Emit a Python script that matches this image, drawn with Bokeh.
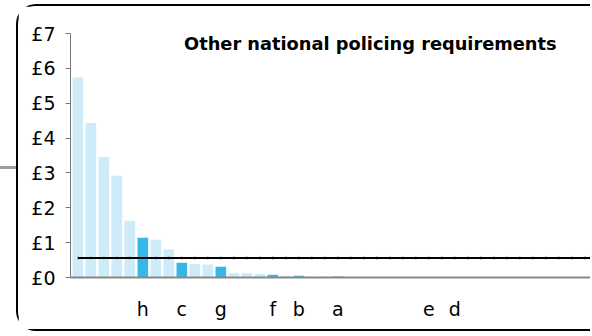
from bokeh.plotting import figure
from bokeh.models import ColumnDataSource, FixedTicker, Range1d, Label
from bokeh.embed import file_html
from bokeh.resources import INLINE

# ---- data ----
title_text = "Other national policing requirements"
force_labels = ["", "", "", "", "", "h", "", "", "c", "", "", "g", "", "", "", "f", "", "b", "", "", "a",
                "", "", "", "", "", "", "e", "", "d", "", "", "", "", "", "", "", "", "", "", ""]
values = [5.74, 4.43, 3.46, 2.92, 1.63, 1.14, 1.08, 0.80, 0.42, 0.39, 0.37, 0.31, 0.13, 0.13, 0.10,
          0.08, 0.05, 0.05, 0.02, 0.02, 0.02, 0, 0, 0, 0, 0, 0, 0, 0, 0, 0, 0, 0, 0, 0, 0, 0, 0, 0, 0, 0]
highlight = ["L", "L", "L", "L", "L", "H", "L", "L", "H", "L", "L", "H", "L", "L", "L", "H", "L", "H", "L", "L", "A",
             "L", "L", "L", "L", "L", "L", "H", "L", "H", "L", "L", "L", "L", "L", "L", "L", "L", "L", "L", "L"]
average = 0.56
y_ticks = [0, 1, 2, 3, 4, 5, 6, 7]
y_tick_labels = ["£0", "£1", "£2", "£3", "£4", "£5", "£6", "£7"]

palette = {"L": "#CDEBF8", "H": "#35B8E8", "A": "#111111"}

xs = list(range(1, len(values) + 1))
src = ColumnDataSource(dict(x=xs, top=values, color=[palette[h] for h in highlight]))

p = figure(width=574, height=327, output_backend="svg", toolbar_location=None,
           x_range=Range1d(0.435, 40.59), y_range=Range1d(0, 7),
           min_border_left=52, min_border_right=0, min_border_top=27, min_border_bottom=56)
# rounded panel frame around the chart (cut off at the right edge), plus the grey tab at the left
p.styles = {"margin-left": "16px", "margin-top": "4px",
            "border-top": "2px solid black", "border-left": "2px solid black",
            "border-bottom": "2px solid black", "border-top-left-radius": "20px",
            "border-bottom-left-radius": "20px",
            "box-shadow": "-178px 0px 0 -162px #9c9c9c"}

p.outline_line_color = None
p.grid.visible = False
p.background_fill_color = "white"
p.border_fill_color = "white"

p.vbar(x="x", top="top", width=0.82, color="color", source=src, line_color=None)

# average line with small point markers
avg = [average] * len(xs)
p.scatter(xs, avg, marker="dash", angle=1.5708, size=4, line_color="#aaaaaa", line_width=1)
p.line(xs, avg, line_color="black", line_width=2)

# axes
p.yaxis.ticker = FixedTicker(ticks=y_ticks)
p.yaxis.major_label_overrides = {t: l for t, l in zip(y_ticks, y_tick_labels)}
p.yaxis.axis_line_color = "#777777"
p.yaxis.major_tick_line_color = "#777777"
p.yaxis.major_tick_out = 5
p.yaxis.major_tick_in = 0
p.yaxis.minor_tick_line_color = None
p.yaxis.major_label_standoff = 10
p.yaxis.major_label_text_font = "DejaVu Sans"
p.yaxis.major_label_text_font_size = "19px"
p.yaxis.major_label_text_color = "black"

x_ticks = [x for x, l in zip(xs, force_labels) if l]
p.xaxis.ticker = FixedTicker(ticks=x_ticks)
p.xaxis.major_label_overrides = {x: l for x, l in zip(xs, force_labels) if l}
p.xaxis.axis_line_color = "#888888"
p.xaxis.axis_line_width = 2
p.xaxis.major_tick_line_color = None
p.xaxis.minor_tick_line_color = None
p.xaxis.major_label_standoff = 14
p.xaxis.major_label_text_font = "DejaVu Sans"
p.xaxis.major_label_text_font_size = "19px"
p.xaxis.major_label_text_color = "black"

p.add_layout(Label(x=23.5, y=6.72, text=title_text, text_align="center", text_baseline="middle",
                   text_font="DejaVu Sans", text_font_style="bold", text_font_size="17.8px",
                   text_color="black"))

open("out.html", "w").write(file_html(p, INLINE))
